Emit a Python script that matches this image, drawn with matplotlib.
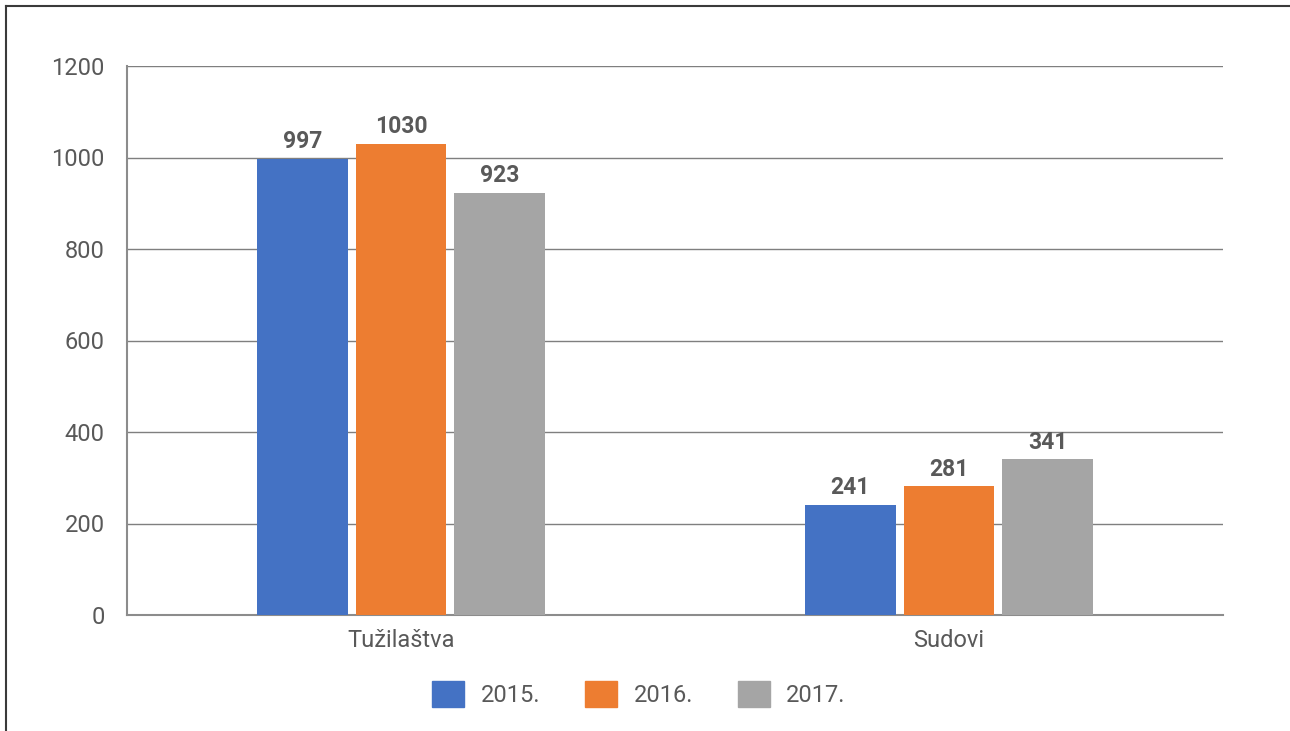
import matplotlib
matplotlib.use("Agg")
import matplotlib.pyplot as plt
from matplotlib.patches import Patch
import numpy as np

categories = ["Tužilaštva", "Sudovi"]
years = ["2015.", "2016.", "2017."]
v2015 = [997, 241]
v2016 = [1030, 281]
v2017 = [923, 341]
colors = ["#4472C4", "#ED7D31", "#A5A5A5"]

TXT = "#595959"
plt.rcParams["font.family"] = ["Roboto", "DejaVu Sans"]

fig = plt.figure(figsize=(12.9, 7.31), dpi=100)
ax = fig.add_axes([127 / 1290, 1 - 615 / 731, 1096 / 1290, 549 / 731])

# figure frame (left and top edges visible)
fig.add_artist(plt.Line2D([6 / 1290, 6 / 1290], [0, 1 - 6 / 731], color="#3a3a3a", lw=1.5))
fig.add_artist(plt.Line2D([6 / 1290, 1], [1 - 6 / 731, 1 - 6 / 731], color="#3a3a3a", lw=1.5))

x = np.arange(len(categories))
width, step = 0.166, 0.18
for i, (vals, col) in enumerate(zip([v2015, v2016, v2017], colors)):
    pos = x + (i - 1) * step
    ax.bar(pos, vals, width=width, color=col, zorder=3)
    for px, v in zip(pos, vals):
        ax.text(px, v + 12, str(v), ha="center", va="bottom", fontsize=16.5,
                fontweight="bold", color=TXT)

ax.set_xlim(-0.5, 1.5)
ax.set_ylim(0, 1200)
ax.set_yticks(range(0, 1201, 200))
ax.set_xticks(x)
ax.set_xticklabels(categories)
ax.grid(axis="y", color="#7f7f7f", lw=1, zorder=0)
for s in ["top", "right"]:
    ax.spines[s].set_visible(False)
ax.spines["left"].set_color("#8c8c8c")
ax.spines["bottom"].set_color("#8c8c8c")
ax.spines["left"].set_linewidth(1.5)
ax.spines["bottom"].set_linewidth(1.5)
ax.tick_params(axis="y", length=0, pad=16, labelsize=17, labelcolor=TXT)
ax.tick_params(axis="x", length=0, pad=10, labelsize=17, labelcolor=TXT)

handles = [Patch(color=c, label=y) for c, y in zip(colors, years)]
fig.legend(handles=handles, loc="center", bbox_to_anchor=(639 / 1290, 1 - 694 / 731),
           ncol=3, frameon=False, fontsize=17, handlelength=1.35, handleheight=1.35,
           handletextpad=0.7, columnspacing=1.9, labelcolor=TXT)

fig.savefig("out.png", dpi=100)
